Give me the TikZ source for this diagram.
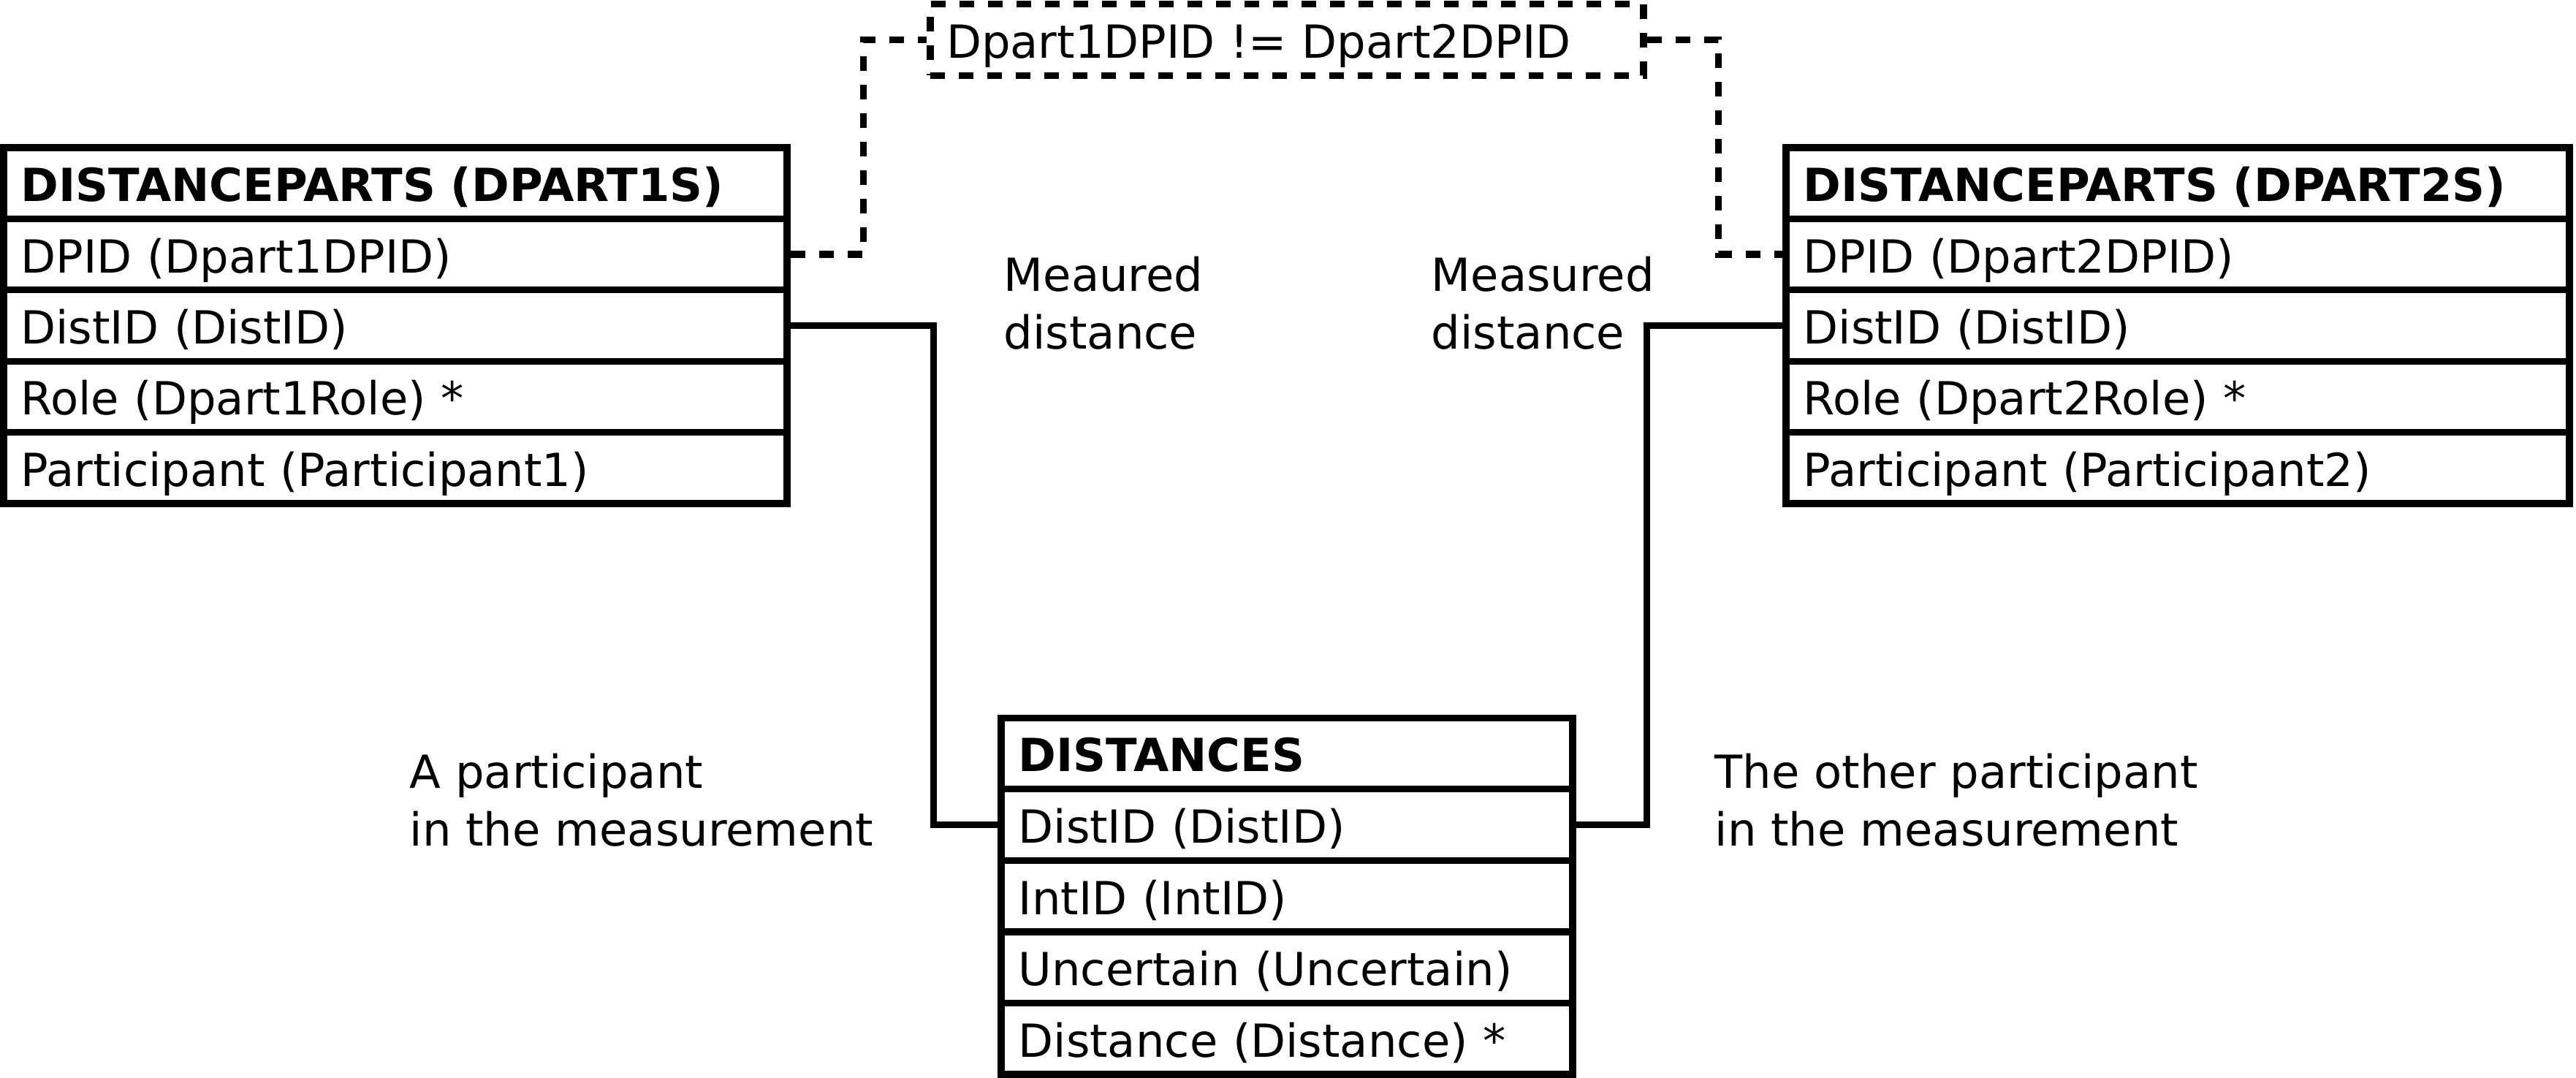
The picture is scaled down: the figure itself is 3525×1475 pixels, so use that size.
\documentclass[tikz,border=0pt]{standalone}
\usepackage{fontspec}
\setmainfont{DejaVu Sans}
\begin{document}
\begin{tikzpicture}[x=0.25pt,y=-0.25pt,
  every node/.style={font=\fontsize{15.6}{19.75}\selectfont},
  lw/.style={line width=2.3pt},
  tabrow/.style={draw, lw, rectangle, inner xsep=5.9pt, inner ysep=0pt, align=left,
    text height=14pt, text depth=1.5pt, minimum height=24.35pt},
  wide/.style={tabrow, text width=256.2pt},
  narrow/.style={tabrow, text width=183.7pt},
  head/.style={font=\fontsize{15.6}{19.75}\selectfont\bfseries},
  dashline/.style={lw, dash pattern=on 5pt off 4.75pt},
  lbl/.style={align=left, inner sep=0pt, anchor=base west}]
\useasboundingbox (0,0) rectangle (3525,1475);
% left table
\node[wide,head] (l0) at (541,250.7) {DISTANCEPARTS (DPART1S)};
\node[wide] (l1) at (541,348.1) {DPID (Dpart1DPID)};
\node[wide] (l2) at (541,445.5) {DistID (DistID)};
\node[wide] (l3) at (541,542.9) {Role (Dpart1Role) *};
\node[wide] (l4) at (541,640.3) {Participant (Participant1)};
% right table
\node[wide,head] (r0) at (2980,250.7) {DISTANCEPARTS (DPART2S)};
\node[wide] (r1) at (2980,348.1) {DPID (Dpart2DPID)};
\node[wide] (r2) at (2980,445.5) {DistID (DistID)};
\node[wide] (r3) at (2980,542.9) {Role (Dpart2Role) *};
\node[wide] (r4) at (2980,640.3) {Participant (Participant2)};
% bottom table
\node[narrow,head] (b0) at (1761,1030.8) {DISTANCES};
\node[narrow] (b1) at (1761,1128.4) {DistID (DistID)};
\node[narrow] (b2) at (1761,1226) {IntID (IntID)};
\node[narrow] (b3) at (1761,1323.6) {Uncertain (Uncertain)};
\node[narrow] (b4) at (1761,1421.2) {Distance (Distance) *};
% constraint box
\node[tabrow, dashline, inner xsep=5.5pt, text width=233pt] (cb) at (1761,54.5) {Dpart1DPID != Dpart2DPID};
% labels
\node[lbl] (m1) at (1373,478) {Meaured\\distance};
\node[lbl] (m2) at (1958,478) {Measured\\distance};
\node[lbl] (p1) at (560,1157) {A participant\\in the measurement};
\node[lbl] (p2) at (2346,1157) {The other participant\\in the measurement};
% connectors
\draw[dashline] (l1.east) -- ++(100,0) |- (cb.west);
\draw[dashline] (cb.east) -- ++(98,0) |- (r1.west);
\draw[lw] (l2.east) -- ++(196,0) |- (b1.west);
\draw[lw] (b1.east) -- ++(97,0) |- (r2.west);
\end{tikzpicture}
\end{document}
